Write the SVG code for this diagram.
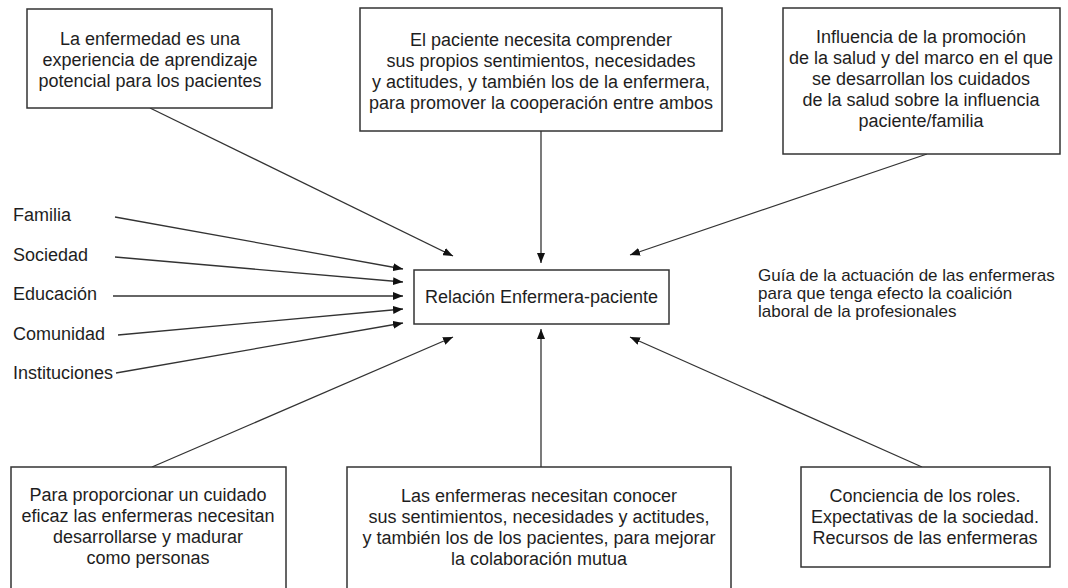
<svg xmlns="http://www.w3.org/2000/svg" width="1068" height="588" viewBox="0 0 1068 588">
<style>
text{font-family:"Liberation Sans",Arial,sans-serif;font-size:18px;fill:#1e1e1e}
.c{text-anchor:middle}
.g{font-size:17px}
.box{fill:#fff;stroke:#333;stroke-width:1.5}
.ln{stroke:#333;stroke-width:1.3;fill:none;marker-end:url(#ah)}
</style>
<defs>
<marker id="ah" viewBox="0 0 10 8" refX="10" refY="4" markerWidth="10" markerHeight="8" markerUnits="userSpaceOnUse" orient="auto">
<path d="M0,0 L10,4 L0,8 z" fill="#111"/>
</marker>
</defs>
<rect width="1068" height="588" fill="#fff"/>
<g id="connectors">
<line class="ln" x1="150" y1="108" x2="453" y2="256"/>
<line class="ln" x1="541" y1="131" x2="541" y2="263"/>
<line class="ln" x1="927" y1="154" x2="630" y2="255"/>
<line class="ln" x1="115" y1="217" x2="403" y2="269"/>
<line class="ln" x1="115" y1="257" x2="403" y2="282"/>
<line class="ln" x1="113" y1="296" x2="403" y2="296"/>
<line class="ln" x1="118" y1="335" x2="403" y2="309"/>
<line class="ln" x1="116" y1="373" x2="403" y2="323"/>
<line class="ln" x1="152" y1="467" x2="453" y2="337"/>
<line class="ln" x1="541" y1="467" x2="541" y2="329"/>
<line class="ln" x1="922" y1="467" x2="630" y2="337"/>
</g>
<g id="n-aprendizaje">
<rect class="box" x="27" y="9" width="245" height="99"/>
<text class="c" x="150" y="45">La enfermedad es una</text>
<text class="c" x="150" y="66">experiencia de aprendizaje</text>
<text class="c" x="150" y="87">potencial para los pacientes</text>
</g>
<g id="n-paciente">
<rect class="box" x="360" y="8" width="362" height="123"/>
<text class="c" x="541" y="46">El paciente necesita comprender</text>
<text class="c" x="541" y="67">sus propios sentimientos, necesidades</text>
<text class="c" x="541" y="88">y actitudes, y también los de la enfermera,</text>
<text class="c" x="541" y="109">para promover la cooperación entre ambos</text>
</g>
<g id="n-promocion">
<rect class="box" x="783" y="8" width="277" height="146"/>
<text class="c" x="921" y="43">Influencia de la promoción</text>
<text class="c" x="921" y="64">de la salud y del marco en el que</text>
<text class="c" x="921" y="85">se desarrollan los cuidados</text>
<text class="c" x="921" y="106">de la salud sobre la influencia</text>
<text class="c" x="921" y="127">paciente/familia</text>
</g>
<g id="n-familia"><text x="13" y="221">Familia</text></g>
<g id="n-sociedad"><text x="13" y="261">Sociedad</text></g>
<g id="n-educacion"><text x="13" y="300">Educación</text></g>
<g id="n-comunidad"><text x="13" y="340">Comunidad</text></g>
<g id="n-instituciones"><text x="13" y="379">Instituciones</text></g>
<g id="n-relacion">
<rect class="box" x="414" y="270" width="255" height="54"/>
<text class="c" x="541.5" y="303">Relación Enfermera-paciente</text>
</g>
<g id="n-guia">
<text class="g" x="758" y="281">Guía de la actuación de las enfermeras</text>
<text class="g" x="758" y="299">para que tenga efecto la coalición</text>
<text class="g" x="758" y="317">laboral de la profesionales</text>
</g>
<g id="n-cuidado">
<rect class="box" x="11" y="467" width="275" height="130"/>
<text class="c" x="148" y="501">Para proporcionar un cuidado</text>
<text class="c" x="148" y="522">eficaz las enfermeras necesitan</text>
<text class="c" x="148" y="543">desarrollarse y madurar</text>
<text class="c" x="148" y="564">como personas</text>
</g>
<g id="n-conocer">
<rect class="box" x="347" y="467" width="384" height="130"/>
<text class="c" x="539" y="502">Las enfermeras necesitan conocer</text>
<text class="c" x="539" y="523">sus sentimientos, necesidades y actitudes,</text>
<text class="c" x="539" y="544">y también los de los pacientes, para mejorar</text>
<text class="c" x="539" y="565">la colaboración mutua</text>
</g>
<g id="n-roles">
<rect class="box" x="801" y="467" width="249" height="100"/>
<text class="c" x="925" y="502">Conciencia de los roles.</text>
<text class="c" x="925" y="523">Expectativas de la sociedad.</text>
<text class="c" x="925" y="544">Recursos de las enfermeras</text>
</g>
</svg>
